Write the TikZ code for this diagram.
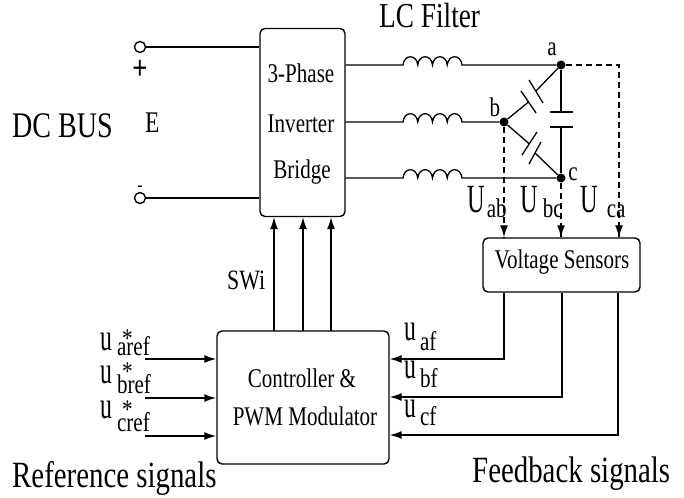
\documentclass[tikz,border=0pt]{standalone}
\usepackage{fontspec}
\usepackage{graphicx}
\setmainfont[FakeStretch=0.78]{Liberation Serif}
\usetikzlibrary{arrows.meta}
\newcommand{\fsz}[1]{\fontsize{#1}{#1}\selectfont}
\newcommand{\ulab}[3]{\fsz{38}\scalebox{.8}[1]{u}\kern#3pt\raisebox{#2pt}{\fsz{27}#1}}
\newcommand{\ustar}[4]{\fsz{38}\scalebox{.8}[1]{u}\kern#3pt\rlap{\kern5pt\raisebox{#4pt}{\fsz{27}*}}\raisebox{#2pt}{\fsz{27}#1}}
\newcommand{\Ulab}[2]{\fsz{40}\scalebox{.78}[1]{U}\kern#2pt\raisebox{-5pt}{\fsz{27}#1}}
\tikzset{
  wire/.style={line width=1.6pt,black},
  thinwire/.style={line width=1.3pt,black},
  senseline/.style={line width=1.2pt,black,dash pattern=on 6pt off 4pt},
  arrowed/.style={-{Latex[length=12pt,width=8pt]}},
  blockbox/.style={draw,line width=1.4pt,rounded corners=5pt,inner sep=0pt},
  terminal/.style={draw,circle,line width=1.4pt,minimum size=11pt,inner sep=0pt,fill=white},
  junction/.style={circle,fill=black,minimum size=9pt,inner sep=0pt},
  lbl/.style={inner sep=0pt,anchor=base west},
  lblc/.style={inner sep=0pt,anchor=base},
  boxtext/.style={lblc,font=\fsz{27}},
  bigtext/.style={lbl,font=\fsz{37}},
  coilbumps/.style={insert path={
    .. controls +(1,-11) and +(-1,-11) .. ++(14.75,0)
    .. controls +(1,-11) and +(-1,-11) .. ++(14.75,0)
    .. controls +(1,-11) and +(-1,-11) .. ++(14.75,0)
    .. controls +(1,-11) and +(-1,-11) .. ++(14.75,0)}}
}
\begin{document}
\begin{tikzpicture}[x=1pt,y=-1pt]
\useasboundingbox (0,0) rectangle (684,497);
% blocks
\node[blockbox,minimum width=85pt,minimum height=188pt] (inv) at (302.5,122.5) {};
\node[blockbox,minimum width=172pt,minimum height=133pt] (ctrl) at (303,397.5) {};
\node[blockbox,minimum width=157pt,minimum height=54pt] (vs) at (561.5,265) {};
% block text
\node[boxtext] (t1) at (301,83) {3-Phase};
\node[boxtext] (t2) at (301,132) {Inverter};
\node[boxtext] (t3) at (302,178) {Bridge};
\node[boxtext] (t4) at (302,387) {Controller \&};
\node[boxtext] (t5) at (305,425) {PWM Modulator};
\node[boxtext] (t6) at (562,268) {Voltage Sensors};
% DC side
\node[terminal] (dcp) at (140,47) {};
\node[terminal] (dcn) at (140,198) {};
\draw[wire] (dcp) -- (dcp -| inv.west);
\draw[wire] (dcn) -- (dcn -| inv.west);
\node[lblc,font=\fsz{34}\bfseries] (plus) at (140,80) {+};
\node[lblc,font=\fsz{20}] (minus) at (140,191) {-};
\node[lbl,font=\fsz{30}] (E) at (145,133) {E};
\node[bigtext,font=\fsz{36}] (dcbus) at (12,138) {DC BUS};
\node[bigtext,font=\fsz{35}] (lcf) at (379,28) {LC Filter};
% filter nodes
\node[junction] (a) at (561,65) {};
\node[junction] (b) at (504,122) {};
\node[junction] (c) at (561,178) {};
\node[lblc,font=\fsz{27}] (la) at (552,56) {a};
\node[lblc,font=\fsz{27}] (lb) at (495,117) {b};
\node[lblc,font=\fsz{27}] (lc) at (573,180) {c};
% phases with inductors
\coordinate (ia) at (403,65); \coordinate (ib) at (403,122); \coordinate (ic) at (403,178);
\draw[thinwire] (inv.east |- ia) -- (ia) [coilbumps] -- (a);
\draw[thinwire] (inv.east |- ib) -- (ib) [coilbumps] -- (b);
\draw[thinwire] (inv.east |- ic) -- (ic) [coilbumps] -- (c);
% capacitor a-c
\coordinate (ac1) at (561,112); \coordinate (ac2) at (561,127);
\draw[thinwire] (a) -- (ac1); \draw[thinwire] (ac2) -- (c);
\draw[wire] (550,112) -- (573,112);
\draw[wire] (550,127) -- (573,127);
% capacitor a-b
\coordinate (ab1) at (536,91); \coordinate (ab2) at (528.5,102);
\draw[thinwire] (a) -- (ab1); \draw[thinwire] (ab2) -- (b);
\draw[thinwire] (529,80) -- (543,103);
\draw[thinwire] (521,91) -- (536,113);
% capacitor b-c
\coordinate (bc1) at (529.5,144); \coordinate (bc2) at (535,153);
\draw[thinwire] (b) -- (bc1); \draw[thinwire] (bc2) -- (c);
\draw[thinwire] (522,155) -- (537,132);
\draw[thinwire] (529,164) -- (541,142);
% dashed sense lines
\coordinate (ca) at (619,65);
\draw[senseline] (a) -- (ca) -- (ca |- vs.north);
\draw[senseline] (b) -- (b |- vs.north);
\draw[senseline] (c) -- (c |- vs.north);
\coordinate (h1) at (619,228); \coordinate (h2) at (504,228); \coordinate (h3) at (561,228);
\draw[thinwire,arrowed] (h1) -- (h1 |- vs.north);
\draw[thinwire,arrowed] (h2) -- (h2 |- vs.north);
\draw[thinwire,arrowed] (h3) -- (h3 |- vs.north);
\node[lbl] (uab) at (467,212) {\Ulab{ab}{2}};
\node[lbl] (ubc) at (520,212) {\Ulab{bc}{5}};
\node[lbl] (uca) at (580,212) {\Ulab{ca}{9}};
% switching signals
\foreach \n/\x in {s1/274,s2/303,s3/331}{
  \coordinate (\n) at (\x,331);
  \draw[thinwire,arrowed] (\n) -- (\n |- inv.south);
}
\node[lbl,font=\fsz{28}] (swi) at (227,289) {SWi};
% reference signals
\foreach \n/\y in {r1/359,r2/398,r3/436}{
  \coordinate (\n) at (145,\y);
  \draw[wire,arrowed] (\n) -- (\n -| ctrl.west);
}
\node[lbl] (ua) at (100,350) {\ustar{aref}{-5}{5}{3}};
\node[lbl] (ub) at (100,383) {\ustar{bref}{-10}{5}{3}};
\node[lbl] (uc) at (100,418) {\ustar{cref}{-13}{5}{0}};
\node[bigtext,font=\fsz{37}] (refs) at (12,487) {Reference signals};
% feedback signals
\coordinate (f1) at (504,359); \coordinate (f2) at (562,397); \coordinate (f3) at (618,435);
\draw[thinwire,arrowed] (f1 |- vs.south) -- (f1) -- (f1 -| ctrl.east);
\draw[thinwire,arrowed] (f2 |- vs.south) -- (f2) -- (f2 -| ctrl.east);
\draw[thinwire,arrowed] (f3 |- vs.south) -- (f3) -- (f3 -| ctrl.east);
\node[lbl] (uaf) at (404,340) {\ulab{af}{-10}{4}};
\node[lbl] (ubf) at (404,378) {\ulab{bf}{-9}{4}};
\node[lbl] (ucf) at (404,417) {\ulab{cf}{-8}{4}};
\node[bigtext,font=\fsz{37}] (fb) at (472,482) {Feedback signals};
\end{tikzpicture}
\end{document}
